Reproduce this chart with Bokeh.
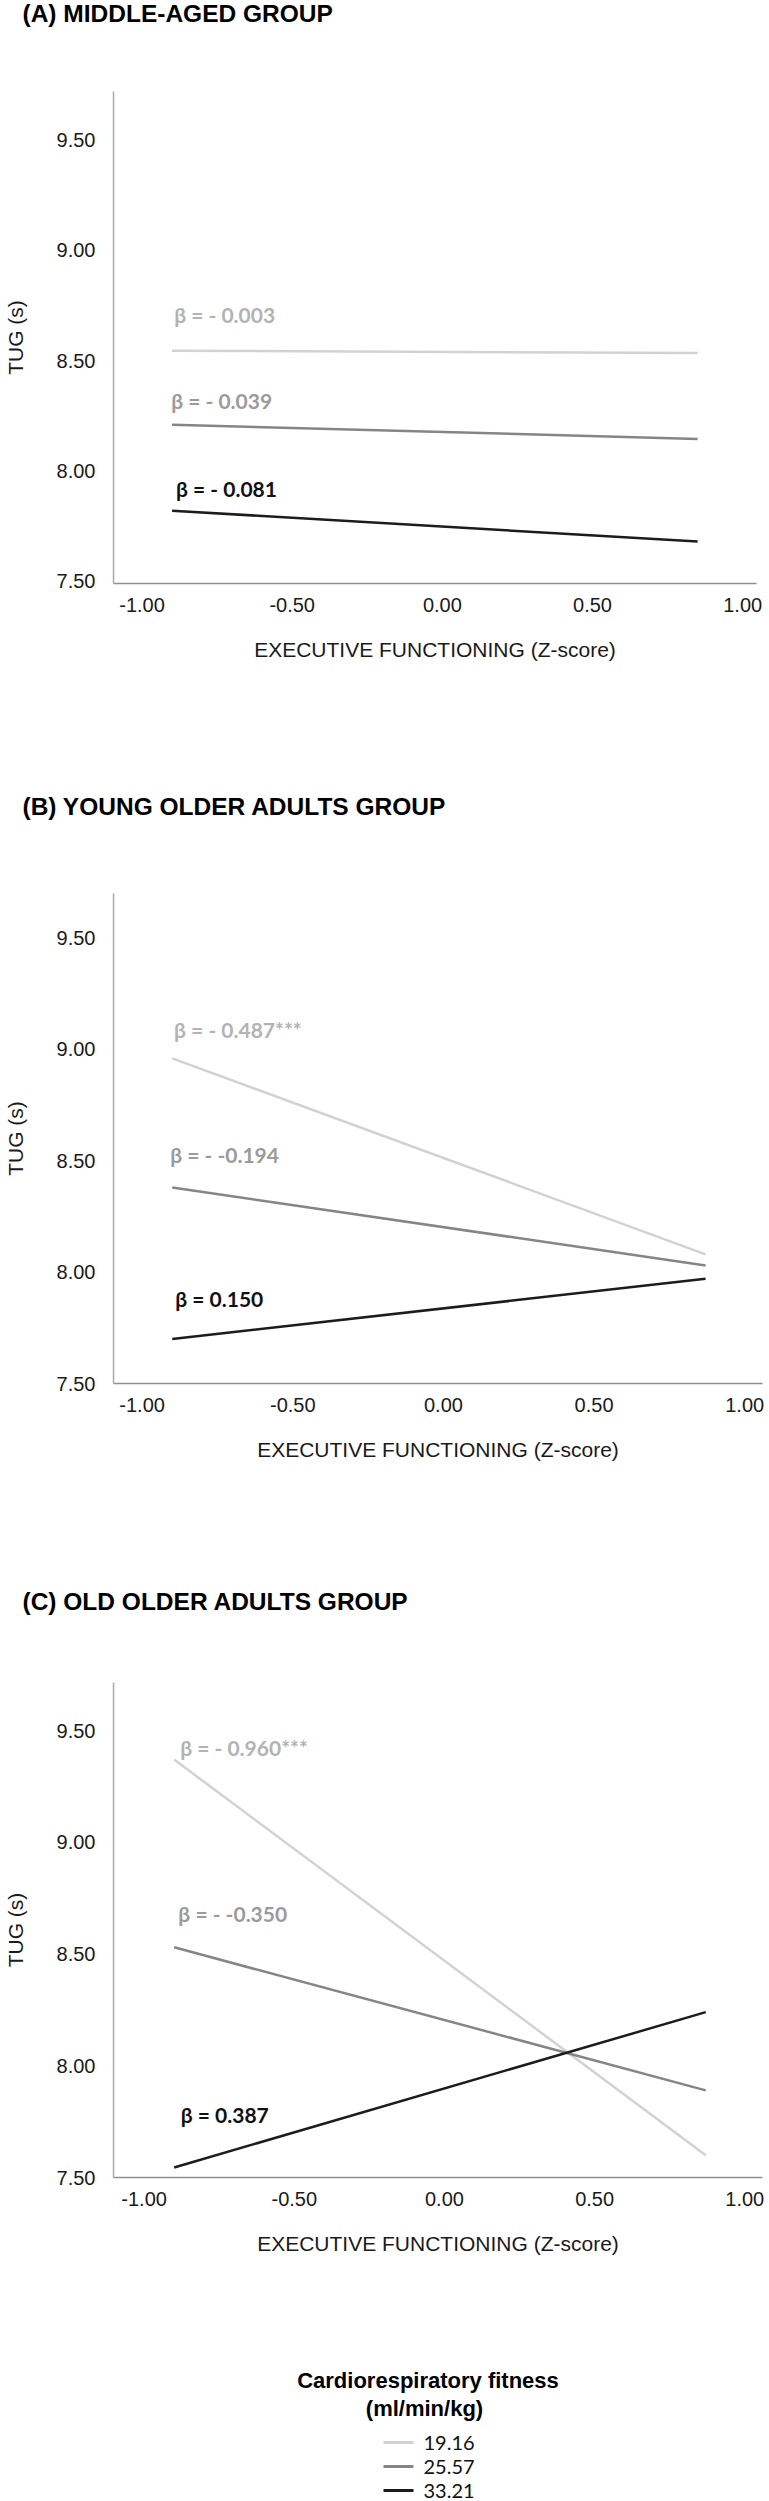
from bokeh.plotting import figure
from bokeh.layouts import column
from bokeh.models import Range1d, FixedTicker, ColumnDataSource
from bokeh.core.properties import value
from bokeh.embed import file_html
from bokeh.resources import INLINE

# ---------------- data ----------------
fitness_levels = ["19.16", "25.57", "33.21"]
legend_title = ["Cardiorespiratory fitness", "(ml/min/kg)"]

x_ticks = [-1.0, -0.5, 0.0, 0.5, 1.0]
x_tick_labels = ["-1.00", "-0.50", "0.00", "0.50", "1.00"]
y_ticks = [7.5, 8.0, 8.5, 9.0, 9.5]
y_tick_labels = ["7.50", "8.00", "8.50", "9.00", "9.50"]

x_title = "EXECUTIVE FUNCTIONING (Z-score)"
y_title = "TUG (s)"

panel_titles = ["(A) MIDDLE-AGED GROUP",
                "(B) YOUNG OLDER ADULTS GROUP",
                "(C) OLD OLDER ADULTS GROUP"]

# Panel A
a_ef = [-0.90, 0.85]
a_tug_19 = [8.545, 8.535]
a_tug_25 = [8.21, 8.145]
a_tug_33 = [7.82, 7.68]
a_beta = ["β = - 0.003", "β = - 0.039", "β = - 0.081"]
a_beta_x = [-0.893, -0.903, -0.887]
a_beta_y = [8.71, 8.32, 7.92]

# Panel B
b_ef = [-0.90, 0.87]
b_tug_19 = [8.96, 8.08]
b_tug_25 = [8.38, 8.03]
b_tug_33 = [7.70, 7.97]
b_beta = ["β = - 0.487***", "β = - -0.194", "β =  0.150"]
b_beta_x = [-0.894, -0.907, -0.890]
b_beta_y = [9.09, 8.53, 7.88]

# Panel C
c_ef = [-0.90, 0.87]
c_tug_19 = [9.37, 7.60]
c_tug_25 = [8.53, 7.89]
c_tug_33 = [7.545, 8.24]
c_beta = ["β = - 0.960***", "β = - -0.350", "β =  0.387"]
c_beta_x = [-0.880, -0.886, -0.878]
c_beta_y = [9.425, 8.68, 7.78]

# ---------------- styles ----------------
LINE_COLORS = ["#d2d2d2", "#858585", "#1c1c1c"]
LABEL_COLORS = ["#b3b3b3", "#9b9b9b", "#111111"]
AX_FONT = "Liberation Sans"
W = 769


def blank_fig(height):
    p = figure(width=W, height=height, output_backend="svg", toolbar_location=None,
               x_range=Range1d(0, W), y_range=Range1d(height, 0),
               x_axis_location=None, y_axis_location=None,
               min_border=0, min_border_left=0, min_border_right=0,
               min_border_top=0, min_border_bottom=0, frame_align=False)
    p.outline_line_color = None
    p.xgrid.visible = False
    p.ygrid.visible = False
    return p


def title_fig(text, height, ty):
    p = blank_fig(height)
    p.text(x=[22], y=[ty], text=[text], text_font=value(AX_FONT),
           text_font_style="bold", text_font_size="24.5px", text_color="#000000",
           text_align="left", text_baseline="middle")
    return p


def make_panel(ef, series, betas, bx, by, height, top, bottom, left, right, xr, yr):
    p = figure(width=W, height=height, output_backend="svg", toolbar_location=None,
               x_range=Range1d(*xr), y_range=Range1d(*yr),
               min_border_top=top, min_border_bottom=bottom,
               min_border_left=left, min_border_right=right,
               background_fill_color="white", border_fill_color="white",
               frame_align=False)
    p.outline_line_color = None
    p.xgrid.visible = False
    p.ygrid.visible = False

    for ys, col in zip(series, LINE_COLORS):
        p.line(ef, ys, line_color=col, line_width=2.5)

    src = ColumnDataSource(dict(x=bx, y=by, t=betas, c=LABEL_COLORS))
    p.text(x="x", y="y", text="t", text_color="c", source=src,
           text_font=value("Lato"), text_font_style="bold",
           text_font_size="21px", text_align="left", text_baseline="middle")

    p.xaxis.ticker = FixedTicker(ticks=x_ticks)
    p.xaxis.major_label_overrides = {k: v for k, v in zip(x_ticks, x_tick_labels)}
    p.yaxis.ticker = FixedTicker(ticks=y_ticks)
    p.yaxis.major_label_overrides = {k: v for k, v in zip(y_ticks, y_tick_labels)}

    for ax in (p.xaxis, p.yaxis):
        ax.major_tick_line_color = None
        ax.minor_tick_line_color = None
        ax.major_label_text_font = AX_FONT
        ax.major_label_text_font_size = "20px"
        ax.major_label_text_color = "#1a1a1a"
        ax.axis_label_text_font = AX_FONT
        ax.axis_label_text_font_size = "21px"
        ax.axis_label_text_font_style = "normal"
        ax.axis_label_text_color = "#1a1a1a"
        ax.axis_line_width = 1.5
    p.xaxis.axis_line_color = "#8f8f8f"
    p.yaxis.axis_line_color = "#aaaaaa"
    p.xaxis.major_label_standoff = 8
    p.yaxis.major_label_standoff = 12
    p.xaxis.axis_label = x_title
    p.yaxis.axis_label = y_title
    p.xaxis.axis_label_standoff = 23
    p.yaxis.axis_label_standoff = 27
    return p


ta = title_fig(panel_titles[0], 40, 13)
pa = make_panel(a_ef, [a_tug_19, a_tug_25, a_tug_33], a_beta, a_beta_x, a_beta_y,
                height=720, top=51, bottom=177, left=104, right=13,
                xr=(-1.095, 1.046), yr=(7.49, 9.72))

tb = title_fig(panel_titles[1], 80, 46)
pb = make_panel(b_ef, [b_tug_19, b_tug_25, b_tug_33], b_beta, b_beta_x, b_beta_y,
                height=710, top=53, bottom=167, left=104, right=7,
                xr=(-1.095, 1.059), yr=(7.50, 9.70))

tc = title_fig(panel_titles[2], 80, 51)
pc = make_panel(c_ef, [c_tug_19, c_tug_25, c_tug_33], c_beta, c_beta_x, c_beta_y,
                height=690, top=52, bottom=143, left=102, right=7,
                xr=(-1.102, 1.059), yr=(7.50, 9.715))

# ---------------- legend ----------------
LH = 181
pl = blank_fig(LH)
pl.text(x=[427.5, 424], y=[60, 88], text=legend_title,
        text_font=value(AX_FONT), text_font_style="bold", text_font_size="22px",
        text_color="#000000", text_align="center", text_baseline="middle")

item_y = [122, 146, 170]
pl.segment(x0=[383] * 3, y0=item_y, x1=[413] * 3, y1=item_y,
           line_color=LINE_COLORS, line_width=3)
pl.text(x=[423] * 3, y=item_y, text=fitness_levels,
        text_font=value("Lato"), text_font_size="20px", text_color="#111111",
        text_align="left", text_baseline="middle")

layout = column(ta, pa, tb, pb, tc, pc, pl)
open("out.html", "w").write(file_html(layout, INLINE))
